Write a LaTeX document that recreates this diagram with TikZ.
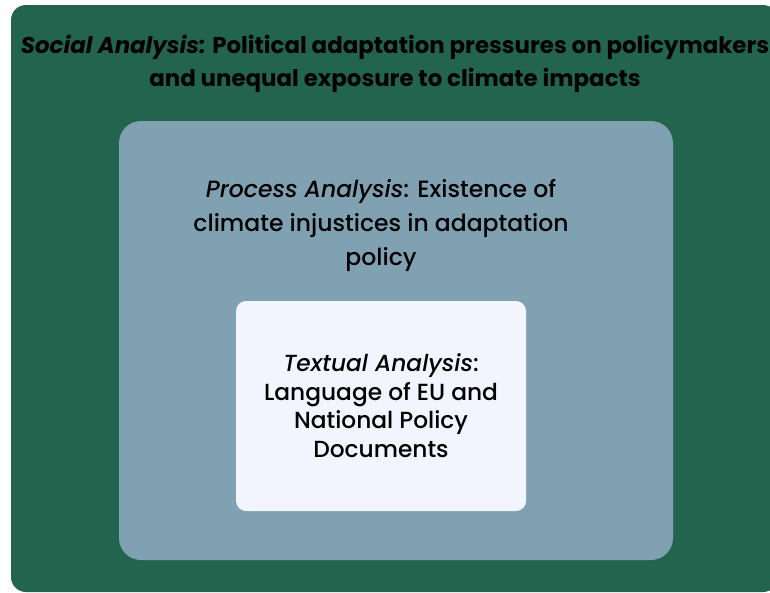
\documentclass[tikz,border=0pt]{standalone}
\usepackage{fontspec}
\setmainfont{Poppins}
\newfontfamily\mediumfont{Poppins Medium}[ItalicFont={Poppins Medium Italic}]
\definecolor{outergreen}{HTML}{22644E}
\definecolor{midslate}{HTML}{7FA1B1}
\definecolor{innerpale}{HTML}{F2F5FE}
\begin{document}
\begin{tikzpicture}[x=1pt,y=-1pt,
  layer/.style={rounded corners=#1},
  label/.style={inner sep=0pt,align=center,text=black,anchor=north}]
\useasboundingbox (0,0) rectangle (770,592);
\begin{scope}
\clip (0,0) rectangle (770,592);
% nested levels of analysis, outermost first
\fill[outergreen,layer=15pt] (11,5) rectangle (778,592);
\fill[midslate,layer=22pt] (119,121) rectangle (673,560);
\fill[innerpale,layer=10pt] (236,301) rectangle (526,511);
\end{scope}
\coordinate (social) at (395,35);
\coordinate (process) at (381,179.3);
\coordinate (textual) at (381,353.5);
\node[label,font=\fontsize{22.9}{32.5}\selectfont\bfseries] (socialtxt) at (social)
  {\textit{Social Analysis:} Political adaptation pressures on policymakers\\and unequal exposure to climate impacts};
\node[label,font=\fontsize{23.5}{34}\selectfont\mediumfont] (processtxt) at (process)
  {\textit{Process Analysis}: Existence of\\climate injustices in adaptation\\policy};
\node[label,font=\fontsize{23.3}{28.5}\selectfont\mediumfont] (textualtxt) at (textual)
  {\textit{Textual Analysis}:\\Language of EU and\\National Policy\\Documents};
\end{tikzpicture}
\end{document}
